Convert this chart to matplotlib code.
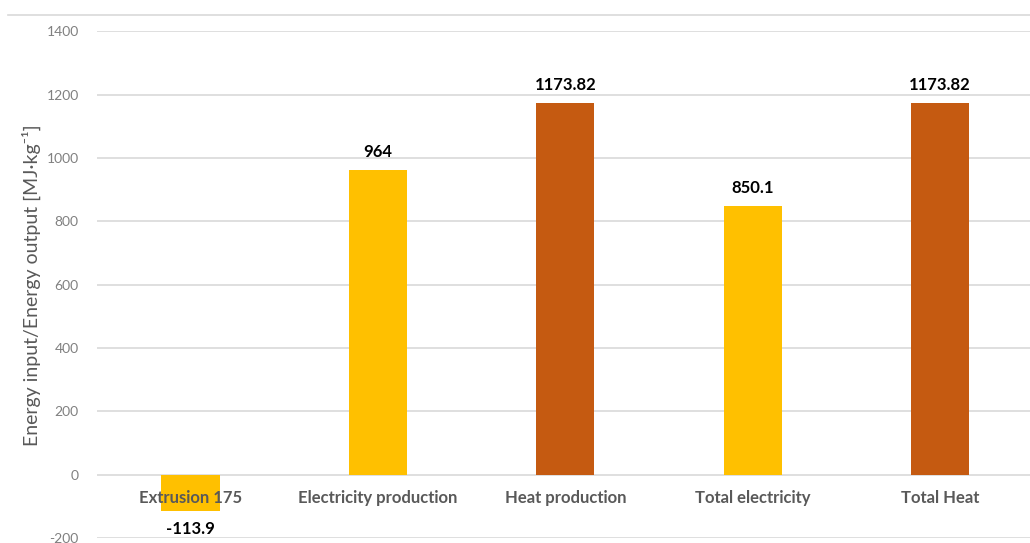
import matplotlib.pyplot as plt
from matplotlib.lines import Line2D

categories = ['Extrusion 175', 'Electricity production', 'Heat production',
              'Total electricity', 'Total Heat']
values = [-113.9, 964, 1173.82, 850.1, 1173.82]
value_labels = ['-113.9', '964', '1173.82', '850.1', '1173.82']
bar_colors = ['#FFC000', '#FFC000', '#C55A11', '#FFC000', '#C55A11']
y_ticks = [-200, 0, 200, 400, 600, 800, 1000, 1200, 1400]

plt.rcParams['font.family'] = ['Lato', 'DejaVu Sans']
plt.rcParams['axes.unicode_minus'] = False

fig = plt.figure(figsize=(10.3, 5.43), dpi=100)
ax = fig.add_axes([0.094, 0.009, 0.906, 0.933])

x = range(len(categories))
bars = ax.bar(x, values, width=0.31, color=bar_colors, zorder=2)

ax.set_xlim(-0.5, 4.48)
ax.set_ylim(-200, 1400)
ax.set_yticks(y_ticks)
ax.grid(axis='y', color='#d9d9d9', linewidth=1.2, zorder=0)
ax.tick_params(axis='y', length=0, pad=13, labelsize=10, labelcolor='#808080')

# category names sit just under the zero line, drawn over the bars
ax.spines['bottom'].set_position(('data', 0))
for side in ['top', 'right', 'left', 'bottom']:
    ax.spines[side].set_visible(False)
ax.set_xticks(list(x))
ax.set_xticklabels(categories, fontsize=12, fontweight='bold', color='#595959')
ax.tick_params(axis='x', length=0, pad=11)
ax.xaxis.set_zorder(5)

for bar, v, lab in zip(bars, values, value_labels):
    offset = 7 if v >= 0 else -7
    ax.annotate(lab, (bar.get_x() + bar.get_width() / 2, v),
                xytext=(0, offset), textcoords='offset points',
                ha='center', va='bottom' if v >= 0 else 'top',
                fontsize=12, fontweight='bold', color='black', zorder=3)

ax.set_ylabel('Energy input/Energy output [MJ·kg⁻¹]',
              fontsize=14, color='#595959', labelpad=4)

# outer chart-area border line at the top
fig.add_artist(Line2D([0.008, 1.0], [0.972, 0.972], color='#d9d9d9',
                      linewidth=1.2, transform=fig.transFigure))

fig.savefig('out.png', dpi=100)
